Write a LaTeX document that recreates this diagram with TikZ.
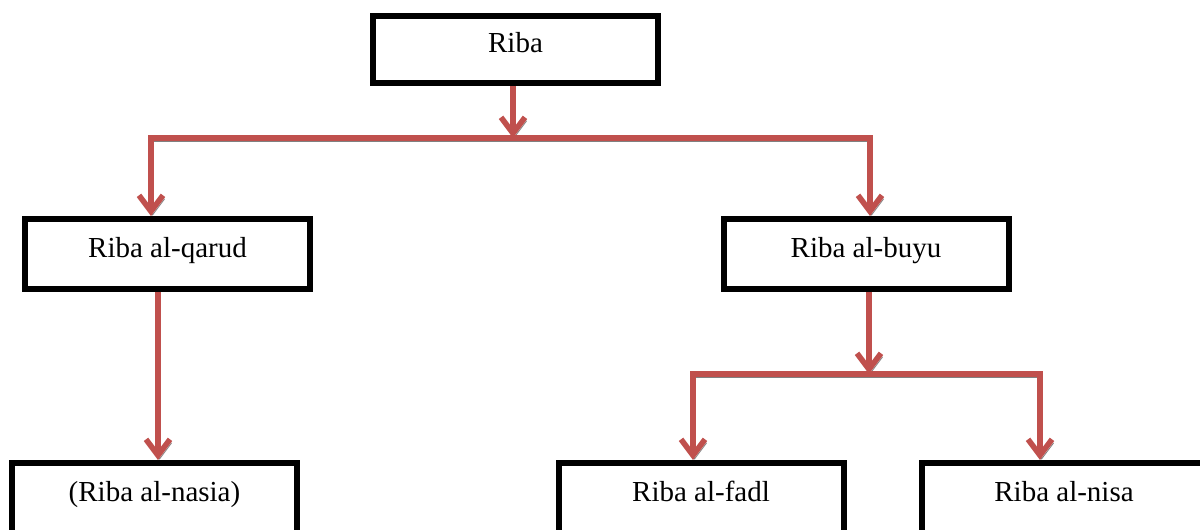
\documentclass[tikz,border=0pt]{standalone}
\usepackage{fontspec}
\setmainfont{Liberation Serif}
\usetikzlibrary{arrows.meta,calc}
\definecolor{ribared}{HTML}{C0504D}
\begin{document}
\begin{tikzpicture}[x=0.5pt,y=-0.5pt,
  box/.style={draw,line width=3pt,minimum width=142.5pt,minimum height=35pt,
    text height=10pt,text depth=7pt,font=\fontsize{14.5}{17}\selectfont},
  conn/.style={draw=ribared,line width=2.8pt,>={Straight Barb[length=8pt,width=12pt]},
    preaction={draw=black!50,transform canvas={shift={(0.8pt,-1.8pt)}}}}]
\useasboundingbox (0,0) rectangle (1200,530);
\clip (0,0) rectangle (1200,530);
\node[box,minimum height=33.5pt] (riba) at (515.5,49.5) {Riba};
\node[box] (qarud) at (167.5,254) {Riba al-qarud};
\node[box] (buyu) at (866,254) {Riba al-buyu};
\node[box] (nasia) at (154.5,498) {(Riba al-nasia)};
\node[box] (fadl) at (701,498) {Riba al-fadl};
\node[box] (nisa) at (1064,498) {Riba al-nisa};
% elbow points
\coordinate (barL) at (151,138);
\coordinate (barM) at (513,138);
\coordinate (barR) at (870,138);
\coordinate (down) at (158,0);
\coordinate (subL) at (693,374);
\coordinate (subM) at (869,374);
\coordinate (subR) at (1040,374);
\draw[conn,->] (barM |- riba.south) -- (barM);
\draw[conn,<->] (barL |- qarud.north) -- (barL) -- (barR) -- (barR |- buyu.north);
\draw[conn,->] (down |- qarud.south) -- (down |- nasia.north);
\draw[conn,->] (subM |- buyu.south) -- (subM);
\draw[conn,<->] (subL |- fadl.north) -- (subL) -- (subR) -- (subR |- nisa.north);
\end{tikzpicture}
\end{document}
